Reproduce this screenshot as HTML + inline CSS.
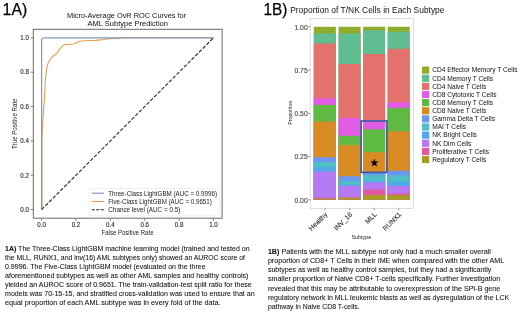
<!DOCTYPE html><html><head><meta charset="utf-8"><style>html,body{margin:0;padding:0;background:#fff;width:520px;height:315px;overflow:hidden}svg{display:block;will-change:transform}text{font-family:"Liberation Sans",sans-serif}</style></head><body>
<svg width="520" height="315" viewBox="0 0 520 315">
<rect width="520" height="315" fill="#fff"/>
<text x="2.6" y="15.3" font-size="16.4" text-anchor="start" fill="#000" font-weight="normal" textLength="24.6" lengthAdjust="spacingAndGlyphs" stroke="#000" stroke-width="0.25">1A)</text>
<text x="126.6" y="18.1" font-size="6.6" text-anchor="middle" fill="#111" font-weight="normal" textLength="119" lengthAdjust="spacingAndGlyphs" >Micro-Average OvR ROC Curves for</text>
<text x="127.7" y="25.8" font-size="6.6" text-anchor="middle" fill="#111" font-weight="normal" textLength="80.5" lengthAdjust="spacingAndGlyphs" >AML Subtype Prediction</text>
<line x1="41.60" y1="218.2" x2="41.60" y2="220.9" stroke="#333" stroke-width="0.6"/>
<line x1="33.3" y1="209.60" x2="30.6" y2="209.60" stroke="#333" stroke-width="0.6"/>
<text x="41.60" y="226.5" font-size="6.4" text-anchor="middle" fill="#222" font-weight="normal" textLength="8.6" lengthAdjust="spacingAndGlyphs" stroke="#222" stroke-width="0.1">0.0</text>
<text x="28.9" y="211.90" font-size="6.4" text-anchor="end" fill="#222" font-weight="normal" textLength="8.6" lengthAdjust="spacingAndGlyphs" stroke="#222" stroke-width="0.1">0.0</text>
<line x1="75.98" y1="218.2" x2="75.98" y2="220.9" stroke="#333" stroke-width="0.6"/>
<line x1="33.3" y1="175.24" x2="30.6" y2="175.24" stroke="#333" stroke-width="0.6"/>
<text x="75.98" y="226.5" font-size="6.4" text-anchor="middle" fill="#222" font-weight="normal" textLength="8.6" lengthAdjust="spacingAndGlyphs" stroke="#222" stroke-width="0.1">0.2</text>
<text x="28.9" y="177.54" font-size="6.4" text-anchor="end" fill="#222" font-weight="normal" textLength="8.6" lengthAdjust="spacingAndGlyphs" stroke="#222" stroke-width="0.1">0.2</text>
<line x1="110.36" y1="218.2" x2="110.36" y2="220.9" stroke="#333" stroke-width="0.6"/>
<line x1="33.3" y1="140.88" x2="30.6" y2="140.88" stroke="#333" stroke-width="0.6"/>
<text x="110.36" y="226.5" font-size="6.4" text-anchor="middle" fill="#222" font-weight="normal" textLength="8.6" lengthAdjust="spacingAndGlyphs" stroke="#222" stroke-width="0.1">0.4</text>
<text x="28.9" y="143.18" font-size="6.4" text-anchor="end" fill="#222" font-weight="normal" textLength="8.6" lengthAdjust="spacingAndGlyphs" stroke="#222" stroke-width="0.1">0.4</text>
<line x1="144.74" y1="218.2" x2="144.74" y2="220.9" stroke="#333" stroke-width="0.6"/>
<line x1="33.3" y1="106.52" x2="30.6" y2="106.52" stroke="#333" stroke-width="0.6"/>
<text x="144.74" y="226.5" font-size="6.4" text-anchor="middle" fill="#222" font-weight="normal" textLength="8.6" lengthAdjust="spacingAndGlyphs" stroke="#222" stroke-width="0.1">0.6</text>
<text x="28.9" y="108.82" font-size="6.4" text-anchor="end" fill="#222" font-weight="normal" textLength="8.6" lengthAdjust="spacingAndGlyphs" stroke="#222" stroke-width="0.1">0.6</text>
<line x1="179.12" y1="218.2" x2="179.12" y2="220.9" stroke="#333" stroke-width="0.6"/>
<line x1="33.3" y1="72.16" x2="30.6" y2="72.16" stroke="#333" stroke-width="0.6"/>
<text x="179.12" y="226.5" font-size="6.4" text-anchor="middle" fill="#222" font-weight="normal" textLength="8.6" lengthAdjust="spacingAndGlyphs" stroke="#222" stroke-width="0.1">0.8</text>
<text x="28.9" y="74.46" font-size="6.4" text-anchor="end" fill="#222" font-weight="normal" textLength="8.6" lengthAdjust="spacingAndGlyphs" stroke="#222" stroke-width="0.1">0.8</text>
<line x1="213.50" y1="218.2" x2="213.50" y2="220.9" stroke="#333" stroke-width="0.6"/>
<line x1="33.3" y1="37.80" x2="30.6" y2="37.80" stroke="#333" stroke-width="0.6"/>
<text x="213.50" y="226.5" font-size="6.4" text-anchor="middle" fill="#222" font-weight="normal" textLength="8.6" lengthAdjust="spacingAndGlyphs" stroke="#222" stroke-width="0.1">1.0</text>
<text x="28.9" y="40.10" font-size="6.4" text-anchor="end" fill="#222" font-weight="normal" textLength="8.6" lengthAdjust="spacingAndGlyphs" stroke="#222" stroke-width="0.1">1.0</text>
<text x="127.5" y="234.8" font-size="6.6" text-anchor="middle" fill="#222" font-weight="normal" textLength="52" lengthAdjust="spacingAndGlyphs" >False Positive Rate</text>
<text x="0" y="0" font-size="6.6" fill="#222" text-anchor="middle" textLength="50.5" lengthAdjust="spacingAndGlyphs" transform="translate(17.4,123.7) rotate(-90)">True Positive Rate</text>
<polyline points="42.0,209.6 42.0,137 42.4,128 43,118 43.6,110 44.3,100 44.9,90 45.4,80 46.6,69 48,63.3 49.9,59.5 52.3,56.7 55.6,54.3 57.5,52.4 60.6,47.8 63.7,44.8 68.3,44.4 73.7,44 76.8,42.5 79.8,41.3 85.2,40.8 96,40.4 104,39.5 109.4,38.6 120,38.4 121,37.8 213.5,37.8" fill="none" stroke="#e3a052" stroke-width="1.1" stroke-linejoin="round"/>
<polyline points="41.6,209.6 41.6,39.3 42.2,38.5 44.2,37.8 213.5,37.8" fill="none" stroke="#8099c0" stroke-width="1.2" stroke-linejoin="round"/>
<line x1="41.6" y1="209.6" x2="213.5" y2="37.8" stroke="#2a2a2a" stroke-width="1.1" stroke-dasharray="3.7,1.6"/>
<rect x="33.3" y="29.3" width="188.8" height="188.9" fill="none" stroke="#6a6a6a" stroke-width="1.0"/>
<rect x="89.4" y="188.4" width="130.2" height="27.5" rx="1.6" fill="#fff" fill-opacity="0.8" stroke="#e2e2e2" stroke-width="0.6"/>
<line x1="91.7" y1="193.2" x2="103.9" y2="193.2" stroke="#8099c0" stroke-width="1.2"/>
<line x1="91.7" y1="201.5" x2="103.9" y2="201.5" stroke="#e3a052" stroke-width="1.1"/>
<line x1="91.7" y1="209.8" x2="103.9" y2="209.8" stroke="#2a2a2a" stroke-width="1.1" stroke-dasharray="3.2,1.3"/>
<text x="108.3" y="195.6" font-size="6.6" text-anchor="start" fill="#222" font-weight="normal" textLength="108.7" lengthAdjust="spacingAndGlyphs" >Three-Class LightGBM (AUC = 0.9996)</text>
<text x="108.3" y="203.9" font-size="6.6" text-anchor="start" fill="#222" font-weight="normal" textLength="103.5" lengthAdjust="spacingAndGlyphs" >Five-Class LightGBM (AUC = 0.9651)</text>
<text x="108.3" y="212.2" font-size="6.6" text-anchor="start" fill="#222" font-weight="normal" textLength="72" lengthAdjust="spacingAndGlyphs" >Chance level (AUC = 0.5)</text>
<text x="5.0" y="250.70" font-size="6.6" text-anchor="start" fill="#111" font-weight="normal" textLength="244.6" lengthAdjust="spacingAndGlyphs" stroke="#111" stroke-width="0.06"><tspan font-weight="bold">1A)</tspan> The Three-Class LightGBM machine learning model (trained and tested on</text>
<text x="5.0" y="259.83" font-size="6.6" text-anchor="start" fill="#111" font-weight="normal" textLength="240.0" lengthAdjust="spacingAndGlyphs" stroke="#111" stroke-width="0.06">the MLL, RUNX1, and inv(16) AML subtypes only) showed an AUROC score of</text>
<text x="5.0" y="268.96" font-size="6.6" text-anchor="start" fill="#111" font-weight="normal" textLength="200.6" lengthAdjust="spacingAndGlyphs" stroke="#111" stroke-width="0.06">0.9996. The Five-Class LightGBM model (evaluated on the three</text>
<text x="5.0" y="278.09" font-size="6.6" text-anchor="start" fill="#111" font-weight="normal" textLength="243.4" lengthAdjust="spacingAndGlyphs" stroke="#111" stroke-width="0.06">aforementioned subtypes as well as other AML samples and healthy controls)</text>
<text x="5.0" y="287.22" font-size="6.6" text-anchor="start" fill="#111" font-weight="normal" textLength="246.8" lengthAdjust="spacingAndGlyphs" stroke="#111" stroke-width="0.06">yielded an AUROC score of 0.9651. The train-validation-test split ratio for these</text>
<text x="5.0" y="296.35" font-size="6.6" text-anchor="start" fill="#111" font-weight="normal" textLength="249.6" lengthAdjust="spacingAndGlyphs" stroke="#111" stroke-width="0.06">models was 70-15-15, and stratified cross-validation was used to ensure that an</text>
<text x="5.0" y="305.48" font-size="6.6" text-anchor="start" fill="#111" font-weight="normal" textLength="215.6" lengthAdjust="spacingAndGlyphs" stroke="#111" stroke-width="0.06">equal proportion of each AML subtype was in every fold of the data.</text>
<text x="263.5" y="15.4" font-size="16.4" text-anchor="start" fill="#000" font-weight="normal" textLength="23.9" lengthAdjust="spacingAndGlyphs" stroke="#000" stroke-width="0.25">1B)</text>
<text x="290.2" y="13.0" font-size="8.6" text-anchor="start" fill="#111" font-weight="normal" textLength="154.3" lengthAdjust="spacingAndGlyphs" >Proportion of T/NK Cells in Each Subtype</text>
<rect x="310.2" y="18.3" width="103.40000000000003" height="190.1" fill="#fff"/>
<line x1="310.2" y1="199.80" x2="413.6" y2="199.80" stroke="#f2f2f2" stroke-width="0.5"/>
<line x1="310.2" y1="178.18" x2="413.6" y2="178.18" stroke="#f2f2f2" stroke-width="0.3"/>
<line x1="310.2" y1="156.55" x2="413.6" y2="156.55" stroke="#f2f2f2" stroke-width="0.5"/>
<line x1="310.2" y1="134.93" x2="413.6" y2="134.93" stroke="#f2f2f2" stroke-width="0.3"/>
<line x1="310.2" y1="113.30" x2="413.6" y2="113.30" stroke="#f2f2f2" stroke-width="0.5"/>
<line x1="310.2" y1="91.68" x2="413.6" y2="91.68" stroke="#f2f2f2" stroke-width="0.3"/>
<line x1="310.2" y1="70.05" x2="413.6" y2="70.05" stroke="#f2f2f2" stroke-width="0.5"/>
<line x1="310.2" y1="48.43" x2="413.6" y2="48.43" stroke="#f2f2f2" stroke-width="0.3"/>
<line x1="310.2" y1="26.80" x2="413.6" y2="26.80" stroke="#f2f2f2" stroke-width="0.5"/>
<line x1="324.8" y1="18.3" x2="324.8" y2="208.4" stroke="#f4f4f4" stroke-width="0.5"/>
<line x1="349.6" y1="18.3" x2="349.6" y2="208.4" stroke="#f4f4f4" stroke-width="0.5"/>
<line x1="374.1" y1="18.3" x2="374.1" y2="208.4" stroke="#f4f4f4" stroke-width="0.5"/>
<line x1="398.7" y1="18.3" x2="398.7" y2="208.4" stroke="#f4f4f4" stroke-width="0.5"/>
<rect x="313.80" y="26.80" width="22.0" height="173.00" fill="#8eab2c"/>
<rect x="313.80" y="33.50" width="22.0" height="166.30" fill="#5fbd91"/>
<rect x="313.80" y="43.50" width="22.0" height="156.30" fill="#e4716b"/>
<rect x="313.80" y="98.30" width="22.0" height="101.50" fill="#e15be5"/>
<rect x="313.80" y="104.90" width="22.0" height="94.90" fill="#5fba44"/>
<rect x="313.80" y="121.50" width="22.0" height="78.30" fill="#d88b22"/>
<rect x="313.80" y="157.20" width="22.0" height="42.60" fill="#6b97f3"/>
<rect x="313.80" y="162.00" width="22.0" height="37.80" fill="#4fbec6"/>
<rect x="313.80" y="166.90" width="22.0" height="32.90" fill="#51a9ea"/>
<rect x="313.80" y="171.60" width="22.0" height="28.20" fill="#b579f4"/>
<rect x="313.80" y="197.80" width="22.0" height="2.00" fill="#e457a3"/>
<rect x="313.80" y="198.60" width="22.0" height="1.20" fill="#a99c22"/>
<rect x="338.60" y="26.80" width="22.0" height="173.00" fill="#8eab2c"/>
<rect x="338.60" y="33.50" width="22.0" height="166.30" fill="#5fbd91"/>
<rect x="338.60" y="64.10" width="22.0" height="135.70" fill="#e4716b"/>
<rect x="338.60" y="118.00" width="22.0" height="81.80" fill="#e15be5"/>
<rect x="338.60" y="135.80" width="22.0" height="64.00" fill="#5fba44"/>
<rect x="338.60" y="145.00" width="22.0" height="54.80" fill="#d88b22"/>
<rect x="338.60" y="176.20" width="22.0" height="23.60" fill="#6b97f3"/>
<rect x="338.60" y="180.90" width="22.0" height="18.90" fill="#4fbec6"/>
<rect x="338.60" y="184.60" width="22.0" height="15.20" fill="#51a9ea"/>
<rect x="338.60" y="185.80" width="22.0" height="14.00" fill="#b579f4"/>
<rect x="338.60" y="197.20" width="22.0" height="2.60" fill="#e457a3"/>
<rect x="338.60" y="197.70" width="22.0" height="2.10" fill="#a99c22"/>
<rect x="363.10" y="26.80" width="22.0" height="173.00" fill="#8eab2c"/>
<rect x="363.10" y="30.30" width="22.0" height="169.50" fill="#5fbd91"/>
<rect x="363.10" y="54.00" width="22.0" height="145.80" fill="#e4716b"/>
<rect x="363.10" y="121.00" width="22.0" height="78.80" fill="#e15be5"/>
<rect x="363.10" y="129.30" width="22.0" height="70.50" fill="#5fba44"/>
<rect x="363.10" y="152.30" width="22.0" height="47.50" fill="#d88b22"/>
<rect x="363.10" y="172.00" width="22.0" height="27.80" fill="#6b97f3"/>
<rect x="363.10" y="175.20" width="22.0" height="24.60" fill="#4fbec6"/>
<rect x="363.10" y="181.00" width="22.0" height="18.80" fill="#51a9ea"/>
<rect x="363.10" y="182.50" width="22.0" height="17.30" fill="#b579f4"/>
<rect x="363.10" y="189.60" width="22.0" height="10.20" fill="#e457a3"/>
<rect x="363.10" y="195.00" width="22.0" height="4.80" fill="#a99c22"/>
<rect x="387.70" y="26.80" width="22.0" height="173.00" fill="#8eab2c"/>
<rect x="387.70" y="31.70" width="22.0" height="168.10" fill="#5fbd91"/>
<rect x="387.70" y="48.90" width="22.0" height="150.90" fill="#e4716b"/>
<rect x="387.70" y="102.30" width="22.0" height="97.50" fill="#e15be5"/>
<rect x="387.70" y="108.00" width="22.0" height="91.80" fill="#5fba44"/>
<rect x="387.70" y="131.30" width="22.0" height="68.50" fill="#d88b22"/>
<rect x="387.70" y="170.80" width="22.0" height="29.00" fill="#6b97f3"/>
<rect x="387.70" y="175.30" width="22.0" height="24.50" fill="#4fbec6"/>
<rect x="387.70" y="181.60" width="22.0" height="18.20" fill="#51a9ea"/>
<rect x="387.70" y="186.00" width="22.0" height="13.80" fill="#b579f4"/>
<rect x="387.70" y="193.60" width="22.0" height="6.20" fill="#e457a3"/>
<rect x="387.70" y="195.20" width="22.0" height="4.60" fill="#a99c22"/>
<rect x="310.2" y="18.3" width="103.40000000000003" height="190.1" fill="none" stroke="#c8c8c8" stroke-width="0.6"/>
<line x1="310.2" y1="199.80" x2="308.4" y2="199.80" stroke="#555" stroke-width="0.7"/>
<text x="307.7" y="202.60" font-size="6.6" text-anchor="end" fill="#444" font-weight="normal" textLength="13.3" lengthAdjust="spacingAndGlyphs" stroke="#444" stroke-width="0.1">0.00</text>
<line x1="310.2" y1="156.55" x2="308.4" y2="156.55" stroke="#555" stroke-width="0.7"/>
<text x="307.7" y="159.35" font-size="6.6" text-anchor="end" fill="#444" font-weight="normal" textLength="13.3" lengthAdjust="spacingAndGlyphs" stroke="#444" stroke-width="0.1">0.25</text>
<line x1="310.2" y1="113.30" x2="308.4" y2="113.30" stroke="#555" stroke-width="0.7"/>
<text x="307.7" y="116.10" font-size="6.6" text-anchor="end" fill="#444" font-weight="normal" textLength="13.3" lengthAdjust="spacingAndGlyphs" stroke="#444" stroke-width="0.1">0.50</text>
<line x1="310.2" y1="70.05" x2="308.4" y2="70.05" stroke="#555" stroke-width="0.7"/>
<text x="307.7" y="72.85" font-size="6.6" text-anchor="end" fill="#444" font-weight="normal" textLength="13.3" lengthAdjust="spacingAndGlyphs" stroke="#444" stroke-width="0.1">0.75</text>
<line x1="310.2" y1="26.80" x2="308.4" y2="26.80" stroke="#555" stroke-width="0.7"/>
<text x="307.7" y="29.60" font-size="6.6" text-anchor="end" fill="#444" font-weight="normal" textLength="13.3" lengthAdjust="spacingAndGlyphs" stroke="#444" stroke-width="0.1">1.00</text>
<line x1="324.8" y1="208.4" x2="324.8" y2="210.20000000000002" stroke="#555" stroke-width="0.7"/>
<line x1="349.6" y1="208.4" x2="349.6" y2="210.20000000000002" stroke="#555" stroke-width="0.7"/>
<line x1="374.1" y1="208.4" x2="374.1" y2="210.20000000000002" stroke="#555" stroke-width="0.7"/>
<line x1="398.7" y1="208.4" x2="398.7" y2="210.20000000000002" stroke="#555" stroke-width="0.7"/>
<text x="0" y="0" font-size="6.8" fill="#333" stroke="#333" stroke-width="0.12" text-anchor="end" transform="translate(327.9,214.9) rotate(-45)">Healthy</text>
<text x="0" y="0" font-size="6.8" fill="#333" stroke="#333" stroke-width="0.12" text-anchor="end" transform="translate(352.7,214.9) rotate(-45)">INV_16</text>
<text x="0" y="0" font-size="6.8" fill="#333" stroke="#333" stroke-width="0.12" text-anchor="end" transform="translate(377.2,214.9) rotate(-45)">MLL</text>
<text x="0" y="0" font-size="6.8" fill="#333" stroke="#333" stroke-width="0.12" text-anchor="end" transform="translate(401.8,214.9) rotate(-45)">RUNX1</text>
<text x="361.4" y="239.2" font-size="5.4" text-anchor="middle" fill="#222" font-weight="normal" >Subtype</text>
<text x="0" y="0" font-size="5.2" fill="#222" text-anchor="middle" transform="translate(292.0,112.7) rotate(-90)">Proportion</text>
<rect x="361.1" y="121.0" width="25.8" height="51.4" fill="none" stroke="#3a5ca8" stroke-width="1.7"/>
<polygon points="374.40,158.55 375.43,161.48 378.54,161.56 376.06,163.44 376.96,166.42 374.40,164.65 371.84,166.42 372.74,163.44 370.26,161.56 373.37,161.48" fill="#000"/>
<rect x="422.0" y="66.50" width="7.2" height="7.2" fill="#8eab2c"/>
<text x="432.2" y="72.40" font-size="6.6" text-anchor="start" fill="#111" font-weight="normal" >CD4 Effector Memory T Cells</text>
<rect x="422.0" y="74.63" width="7.2" height="7.2" fill="#5fbd91"/>
<text x="432.2" y="80.53" font-size="6.6" text-anchor="start" fill="#111" font-weight="normal" >CD4 Memory T Cells</text>
<rect x="422.0" y="82.76" width="7.2" height="7.2" fill="#e4716b"/>
<text x="432.2" y="88.66" font-size="6.6" text-anchor="start" fill="#111" font-weight="normal" >CD4 Naive T Cells</text>
<rect x="422.0" y="90.89" width="7.2" height="7.2" fill="#e15be5"/>
<text x="432.2" y="96.79" font-size="6.6" text-anchor="start" fill="#111" font-weight="normal" >CD8 Cytotoxic T Cells</text>
<rect x="422.0" y="99.02" width="7.2" height="7.2" fill="#5fba44"/>
<text x="432.2" y="104.92" font-size="6.6" text-anchor="start" fill="#111" font-weight="normal" >CD8 Memory T Cells</text>
<rect x="422.0" y="107.15" width="7.2" height="7.2" fill="#d88b22"/>
<text x="432.2" y="113.05" font-size="6.6" text-anchor="start" fill="#111" font-weight="normal" >CD8 Naive T Cells</text>
<rect x="422.0" y="115.28" width="7.2" height="7.2" fill="#6b97f3"/>
<text x="432.2" y="121.18" font-size="6.6" text-anchor="start" fill="#111" font-weight="normal" >Gamma Delta T Cells</text>
<rect x="422.0" y="123.41" width="7.2" height="7.2" fill="#4fbec6"/>
<text x="432.2" y="129.31" font-size="6.6" text-anchor="start" fill="#111" font-weight="normal" >MAI T Cells</text>
<rect x="422.0" y="131.54" width="7.2" height="7.2" fill="#51a9ea"/>
<text x="432.2" y="137.44" font-size="6.6" text-anchor="start" fill="#111" font-weight="normal" >NK Bright Cells</text>
<rect x="422.0" y="139.67" width="7.2" height="7.2" fill="#b579f4"/>
<text x="432.2" y="145.57" font-size="6.6" text-anchor="start" fill="#111" font-weight="normal" >NK Dim Cells</text>
<rect x="422.0" y="147.80" width="7.2" height="7.2" fill="#e457a3"/>
<text x="432.2" y="153.70" font-size="6.6" text-anchor="start" fill="#111" font-weight="normal" >Proliferative T Cells</text>
<rect x="422.0" y="155.93" width="7.2" height="7.2" fill="#a99c22"/>
<text x="432.2" y="161.83" font-size="6.6" text-anchor="start" fill="#111" font-weight="normal" >Regulatory T Cells</text>
<text x="267.9" y="253.90" font-size="6.6" text-anchor="start" fill="#111" font-weight="normal" textLength="222.9" lengthAdjust="spacingAndGlyphs" stroke="#111" stroke-width="0.06"><tspan font-weight="bold">1B)</tspan> Patients with the MLL subtype not only had a much smaller overall</text>
<text x="267.9" y="263.05" font-size="6.6" text-anchor="start" fill="#111" font-weight="normal" textLength="236.3" lengthAdjust="spacingAndGlyphs" stroke="#111" stroke-width="0.06">proportion of CD8+ T Cells in their IME when compared with the other AML</text>
<text x="267.9" y="272.20" font-size="6.6" text-anchor="start" fill="#111" font-weight="normal" textLength="223.5" lengthAdjust="spacingAndGlyphs" stroke="#111" stroke-width="0.06">subtypes as well as healthy control samples, but they had a significantly</text>
<text x="267.9" y="281.35" font-size="6.6" text-anchor="start" fill="#111" font-weight="normal" textLength="232.3" lengthAdjust="spacingAndGlyphs" stroke="#111" stroke-width="0.06">smaller proportion of Naive CD8+ T-cells specifically.  Further investigation</text>
<text x="267.9" y="290.50" font-size="6.6" text-anchor="start" fill="#111" font-weight="normal" textLength="232.3" lengthAdjust="spacingAndGlyphs" stroke="#111" stroke-width="0.06">revealed that this may be attributable to overexpression of the SPI-B gene</text>
<text x="267.9" y="299.65" font-size="6.6" text-anchor="start" fill="#111" font-weight="normal" textLength="241.3" lengthAdjust="spacingAndGlyphs" stroke="#111" stroke-width="0.06">regulatory network in MLL leukemic blasts as well as dysregulation of the LCK</text>
<text x="267.9" y="308.80" font-size="6.6" text-anchor="start" fill="#111" font-weight="normal" textLength="91.7" lengthAdjust="spacingAndGlyphs" stroke="#111" stroke-width="0.06">pathway in Naive CD8 T-cells.</text>
</svg></body></html>
